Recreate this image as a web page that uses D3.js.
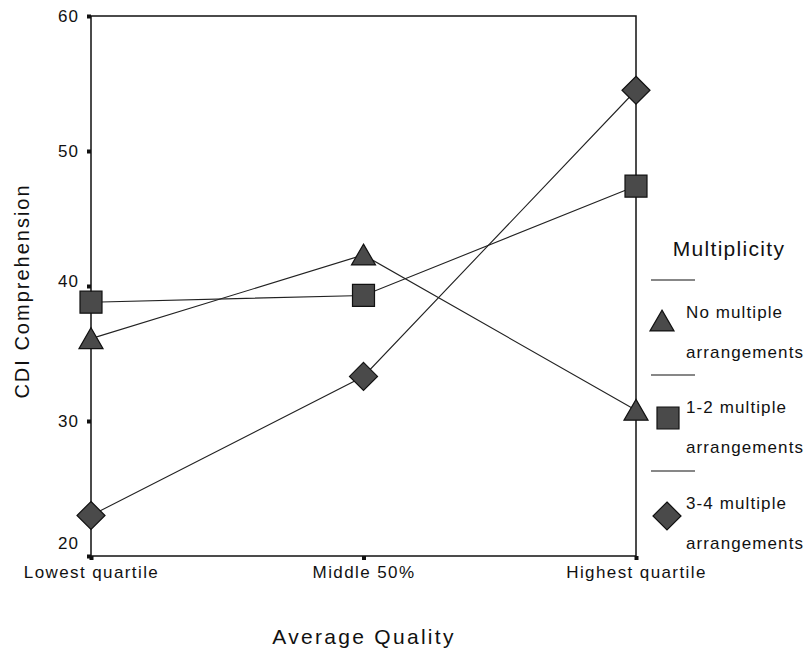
<!DOCTYPE html>
<html><head><meta charset="utf-8">
<script src="https://cdn.jsdelivr.net/npm/d3@7"></script>
<style>body{margin:0;background:#fff}svg{display:block}text{font-family:"Liberation Sans",Arial,sans-serif;fill:#111}</style>
</head><body>
<svg id="c" width="809" height="653"></svg>
<script>
const categories = ["Lowest quartile", "Middle 50%", "Highest quartile"];
const seriesNames = ["No multiple arrangements", "1-2 multiple arrangements", "3-4 multiple arrangements"];
const noMultiple = [36.1, 42.3, 30.8];
const oneTwoMultiple = [38.8, 39.3, 47.4];
const threeFourMultiple = [23.0, 33.3, 54.5];
const yTicks = [20, 30, 40, 50, 60];

const series = [
  {name: seriesNames[0], values: noMultiple, shape: "triangle", l1: "No multiple", l2: "arrangements"},
  {name: seriesNames[1], values: oneTwoMultiple, shape: "square", l1: "1-2 multiple", l2: "arrangements"},
  {name: seriesNames[2], values: threeFourMultiple, shape: "diamond", l1: "3-4 multiple", l2: "arrangements"}
];

const svg = d3.select("#c");
const L = 91, R = 636, T = 16, B = 556;
const x = d3.scalePoint().domain(categories).range([L, R]);
const y = d3.scaleLinear().domain([20, 60]).range([B, T]);

// frame
svg.append("rect").attr("x", L).attr("y", T).attr("width", R - L).attr("height", B - T)
  .attr("fill", "none").attr("stroke", "#111").attr("stroke-width", 1.5);

// y axis
const yAx = svg.append("g").attr("transform", `translate(${L},0)`)
  .call(d3.axisLeft(y).tickValues(yTicks).tickSize(0).tickPadding(12).tickFormat(d3.format("d")));
yAx.select(".domain").remove();
yAx.selectAll("text").style("font-size", "17px").style("letter-spacing", "1px")
  .attr("dy", d => d === 20 ? "-0.45em" : (d === 40 ? "0em" : "0.32em"));
yAx.selectAll(".tick").append("rect").attr("x", -4).attr("y", -2).attr("width", 4).attr("height", 4).attr("fill", "#111");

// x axis
const xAx = svg.append("g").attr("transform", `translate(0,${B})`)
  .call(d3.axisBottom(x).tickSize(0).tickPadding(16));
xAx.select(".domain").remove();
xAx.selectAll("text").style("font-size", "17px").style("letter-spacing", "1.4px").attr("dy", "0.35em");
xAx.selectAll(".tick").append("rect").attr("x", -2).attr("y", 0).attr("width", 4).attr("height", 4).attr("fill", "#111");

// axis titles
svg.append("text").attr("transform", `translate(29,${(T + B) / 2 + 5}) rotate(-90)`)
  .attr("text-anchor", "middle").style("font-size", "20px").style("letter-spacing", "2px").text("CDI Comprehension");
svg.append("text").attr("x", 364).attr("y", 644).attr("text-anchor", "middle")
  .style("font-size", "21px").style("letter-spacing", "2.3px").text("Average Quality");

function symbolPath(shape) {
  if (shape === "triangle") return d3.symbol().type(d3.symbolTriangle).size(250)();
  if (shape === "square") return "M-11,-11H11V11H-11Z";
  return "M0,-14L14,0L0,14L-14,0Z";
}

const line = d3.line().x((d, i) => x(categories[i])).y(d => y(d));
series.forEach(s => {
  svg.append("path").attr("d", line(s.values)).attr("fill", "none")
    .attr("stroke", "#222").attr("stroke-width", 1.1);
});
series.forEach(s => {
  svg.selectAll(null).data(s.values).enter().append("path")
    .attr("d", symbolPath(s.shape))
    .attr("transform", (d, i) => `translate(${x(categories[i])},${y(d) + (s.shape === "triangle" ? 3 : 0)})`)
    .attr("fill", "#4a4a4a").attr("stroke", "#111").attr("stroke-width", 1.2);
});

// legend
const lg = svg.append("g");
lg.append("text").attr("x", 729).attr("y", 256).attr("text-anchor", "middle")
  .style("font-size", "21px").style("letter-spacing", "1.3px").text("Multiplicity");
const lgY = [280, 375, 471];
const symPos = [[662, 324], [668, 418], [667, 516]];
series.forEach((s, i) => {
  lg.append("line").attr("x1", 651).attr("x2", 695).attr("y1", lgY[i]).attr("y2", lgY[i]).attr("stroke", "#111").attr("stroke-width", 1.2);
  lg.append("path").attr("d", symbolPath(s.shape)).attr("transform", `translate(${symPos[i][0]},${symPos[i][1]})`)
    .attr("fill", "#4a4a4a").attr("stroke", "#111").attr("stroke-width", 1.2);
  lg.append("text").attr("x", 686).attr("y", lgY[i] + 38).style("font-size", "17px").style("letter-spacing", "1.1px").text(s.l1);
  lg.append("text").attr("x", 686).attr("y", lgY[i] + 78).style("font-size", "17px").style("letter-spacing", "1.1px").text(s.l2);
});
</script>
</body></html>
